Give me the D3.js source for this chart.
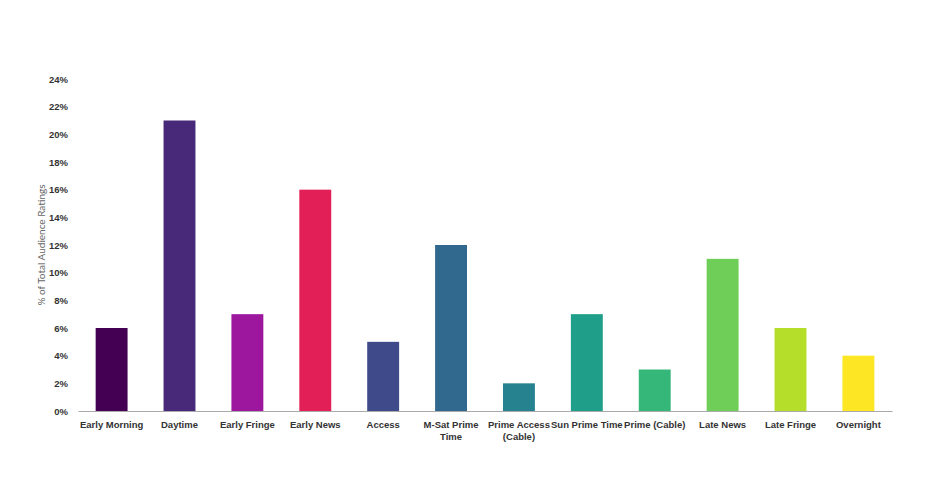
<!DOCTYPE html>
<html>
<head>
<meta charset="utf-8">
<script src="https://cdn.jsdelivr.net/npm/d3@7.9.0/dist/d3.min.js"></script>
<style>
  body { margin: 0; background: #fff; }
  svg { display: block; font-family: "Lato", "Noto Sans", sans-serif; }
</style>
</head>
<body>
<svg id="chart" width="928" height="484"></svg>
<script>
// day parts and their share of ratings
const dayparts = ['Early Morning', 'Daytime', 'Early Fringe', 'Early News', 'Access', 'M-Sat Prime Time',
  'Prime Access (Cable)', 'Sun Prime Time', 'Prime (Cable)', 'Late News', 'Late Fringe', 'Overnight'];
const shares = [6, 21, 7, 16, 5, 12, 2, 7, 3, 11, 6, 4];
const barColors = ['#440154', '#482878', '#9c179e', '#e21f56', '#3e4a89', '#31688e',
  '#26828e', '#1f9e89', '#35b779', '#6ece58', '#b5de2b', '#fde725'];
const yTicks = [0, 2, 4, 6, 8, 10, 12, 14, 16, 18, 20, 22, 24];

const svg = d3.select('#chart');
const margin = { top: 79, right: 36, bottom: 73, left: 78 };
const width = 928 - margin.left - margin.right;
const height = 484 - margin.top - margin.bottom;

const g = svg.append('g').attr('transform', `translate(${margin.left},${margin.top})`);

let x = d3.scaleBand().domain(dayparts).range([0, width]).paddingInner(0.53).paddingOuter(0.26);
let y = d3.scaleLinear().domain([0, 24]).range([height, 0]);

// y tick labels (no axis line)
g.append('g')
  .call(d3.axisLeft(y).tickValues(yTicks).tickFormat(d => d + '%').tickSize(0).tickPadding(10))
  .call(s => s.select('.domain').remove())
  .selectAll('text')
    .attr('fill', '#333')
    .attr('font-size', 9.5)
    .attr('font-weight', 700);

// bars
g.selectAll('rect.bar')
  .data(shares)
  .join('rect')
    .attr('class', 'bar')
    .attr('x', (d, i) => x(dayparts[i]))
    .attr('y', d => y(d))
    .attr('width', x.bandwidth())
    .attr('height', d => height - y(d))
    .attr('fill', (d, i) => barColors[i]);

// x axis
const xAxis = g.append('g')
  .attr('transform', `translate(0,${height})`)
  .call(d3.axisBottom(x).tickSize(0).tickPadding(10));
xAxis.select('.domain').attr('stroke', '#aaa').attr('stroke-width', 1.2);
xAxis.selectAll('text')
  .attr('fill', '#333')
  .attr('font-size', 9.5)
  .attr('font-weight', 700)
  .each(function(d) {
    // wrap the long labels onto two lines
    const wrap = { 'M-Sat Prime Time': ['M-Sat Prime', 'Time'], 'Prime Access (Cable)': ['Prime Access', '(Cable)'] };
    if (wrap[d]) {
      const t = d3.select(this).text(null);
      wrap[d].forEach((line, i) => {
        t.append('tspan').attr('x', 0).attr('dy', i === 0 ? '0.71em' : '1.25em').text(line);
      });
      t.attr('dy', null);
    }
  });

// axis title
svg.append('text')
  .attr('transform', `translate(45,${margin.top + height / 2}) rotate(-90)`)
  .attr('text-anchor', 'middle')
  .attr('fill', '#666')
  .attr('font-size', 10)
  .text('% of Total Audience Ratings');
</script>
</body>
</html>
